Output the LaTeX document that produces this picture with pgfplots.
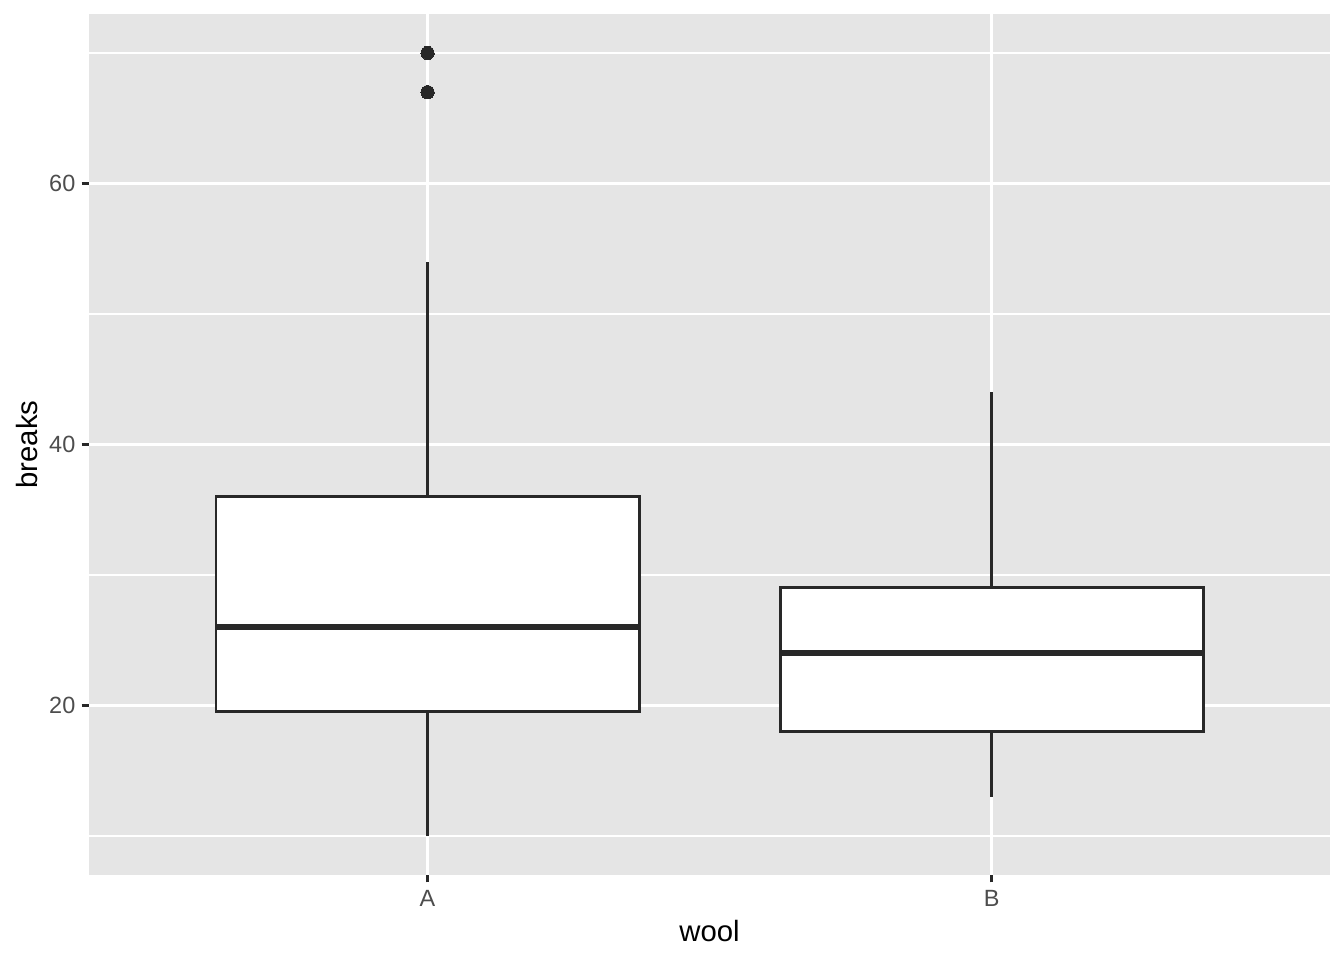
\documentclass[border=0pt]{standalone}
\usepackage{pgfplots}
\pgfplotsset{compat=1.18}
\usepackage{fontspec}
\setmainfont{Liberation Sans}
\definecolor{gray20}{RGB}{40,40,40}
\definecolor{gray30}{RGB}{77,77,77}
\definecolor{gray92}{RGB}{229,229,229}
\begin{document}
\begin{tikzpicture}
\path[use as bounding box] (0,0) rectangle (504pt,360pt);
\begin{axis}[
  at={(33.4pt,31.9pt)}, anchor=south west,
  scale only axis, width=465.4pt, height=322.9pt,
  xmin=0.4, xmax=2.6, ymin=7, ymax=73,
  axis background/.style={fill=gray92},
  axis lines*=left, axis line style={draw=none},
  xtick={1,2}, xticklabels={A,B},
  ytick={20,40,60}, minor ytick={10,30,50,70},
  grid=both,
  major grid style={white, line width=1.07pt},
  minor grid style={white, line width=0.53pt},
  minor tick length=0pt,
  major tick length=2.75pt,
  tick align=outside,
  tick style={gray20, line width=1.07pt},
  /pgf/number format/assume math mode=true,
  ticklabel style={font=\fontsize{8.8}{10}\selectfont, text=gray30},
  yticklabel style={anchor=east, inner sep=0pt, xshift=-2.2pt},
  xticklabel style={anchor=north, inner sep=0pt, yshift=-2.8pt},
  xlabel={wool}, ylabel={breaks},
  label style={font=\fontsize{11}{13}\selectfont, text=black},
  xlabel style={at={(axis description cs:0.5,-0.065)}, anchor=center},
  ylabel style={at={(axis description cs:-0.05,0.5)}, anchor=center},
  clip=false,
]
% wool A
\addplot[gray20, line width=1.07pt] coordinates {(1,10) (1,19.5)};
\addplot[gray20, line width=1.07pt] coordinates {(1,36) (1,54)};
\addplot[draw=gray20, fill=white, line width=1.07pt] coordinates {(0.625,19.5) (1.375,19.5) (1.375,36) (0.625,36)} -- cycle;
\addplot[gray20, line width=2.13pt] coordinates {(0.625,26) (1.375,26)};
\addplot[only marks, mark=*, mark size=2.5pt, mark options={fill=gray20, draw=gray20, line width=0pt}] coordinates {(1,67) (1,70)};
% wool B
\addplot[gray20, line width=1.07pt] coordinates {(2,13) (2,18)};
\addplot[gray20, line width=1.07pt] coordinates {(2,29) (2,44)};
\addplot[draw=gray20, fill=white, line width=1.07pt] coordinates {(1.625,18) (2.375,18) (2.375,29) (1.625,29)} -- cycle;
\addplot[gray20, line width=2.13pt] coordinates {(1.625,24) (2.375,24)};
\end{axis}
\end{tikzpicture}
\end{document}
